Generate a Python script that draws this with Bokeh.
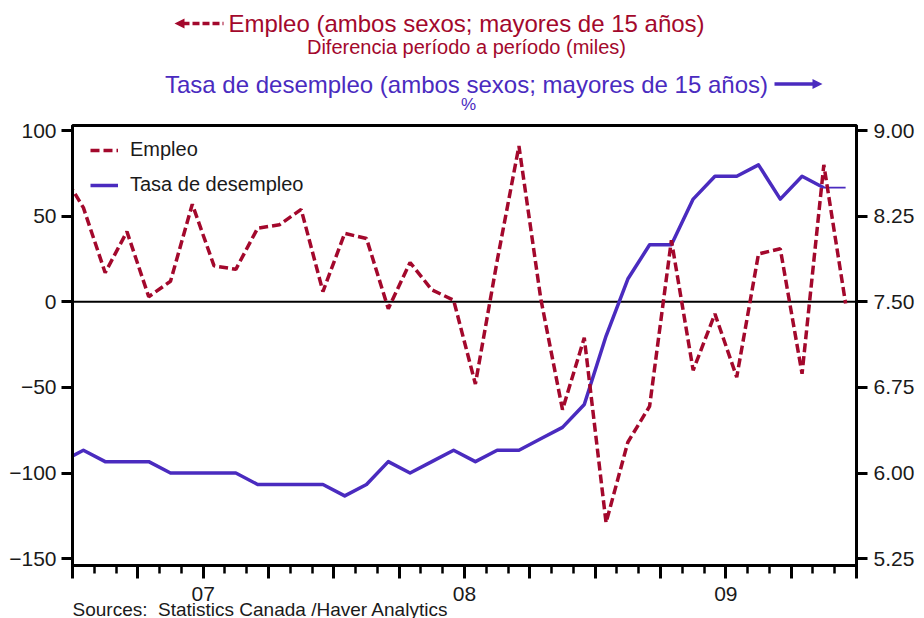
from bokeh.plotting import figure
from bokeh.layouts import column
from bokeh.models import (Range1d, LinearAxis, FixedTicker, NumeralTickFormatter,
                          Span, Legend, LegendItem, ColumnDataSource, Title)
from bokeh.core.properties import value
from bokeh.embed import file_html
from bokeh.resources import INLINE

# ---------------- data ----------------
months = ["2006-12",
          "2007-01", "2007-02", "2007-03", "2007-04", "2007-05", "2007-06",
          "2007-07", "2007-08", "2007-09", "2007-10", "2007-11", "2007-12",
          "2008-01", "2008-02", "2008-03", "2008-04", "2008-05", "2008-06",
          "2008-07", "2008-08", "2008-09", "2008-10", "2008-11", "2008-12",
          "2009-01", "2009-02", "2009-03", "2009-04", "2009-05", "2009-06",
          "2009-07", "2009-08", "2009-09", "2009-10", "2009-11", "2009-12"]

empleo = [76,
          55, 17, 41, 3, 12, 57, 21, 19, 43, 45, 54, 6,
          40, 37, -4, 23, 7, 1, -48, 24, 91, 2, -63, -21,
          -129, -82, -61, 36, -40, -7, -44, 28, 31, -42, 80, -1]

tasa = [6.1,
        6.2, 6.1, 6.1, 6.1, 6.0, 6.0, 6.0, 6.0, 5.9, 5.9, 5.9, 5.9,
        5.8, 5.9, 6.1, 6.0, 6.1, 6.2, 6.1, 6.2, 6.2, 6.3, 6.4, 6.6,
        7.2, 7.7, 8.0, 8.0, 8.4, 8.6, 8.6, 8.7, 8.4, 8.6, 8.5, 8.5]

left_ticks = [-150, -100, -50, 0, 50, 100]
right_ticks = [5.25, 6.00, 6.75, 7.50, 8.25, 9.00]
year_labels = {6: "07", 18: "08", 30: "09"}

title_emp = "Empleo (ambos sexos; mayores de 15 años)"
sub_emp = "Diferencia período a período (miles)"
title_tasa = "Tasa de desempleo (ambos sexos; mayores de 15 años)"
sub_tasa = "%"
sources = "Sources:\u00a0\u00a0Statistics Canada /Haver Analytics"

# ---------------- styling ----------------
RED = "#A3082C"
BLUE = "#4A2BBF"
FONT = "Liberation Sans"
TXT = "#1a1a1a"
W = 924
TOP_H = 118
FL, FR = 72, 856          # frame left / right in page pixels

LEFT_LO, LEFT_HI = -154, 103
def to_right(v):
    return 7.5 + 0.015 * v

# ================= header figure (titles + arrows) =================
top = figure(width=W, height=TOP_H, output_backend="svg", toolbar_location=None,
             tools="", x_range=Range1d(FL, FR), y_range=Range1d(TOP_H, 0),
             x_axis_location=None, y_axis_location=None, min_border=0)
top.outline_line_color = None
top.background_fill_color = "white"
top.border_fill_color = "white"
top.grid.visible = False

CX = 466
top.text(x=[CX], y=[23], text=[title_emp], text_font=value(FONT),
         text_font_size="24px", text_color=RED, text_align="center",
         text_baseline="middle")
top.text(x=[CX], y=[46], text=[sub_emp], text_font=value(FONT),
         text_font_size="20px", text_color=RED, text_align="center",
         text_baseline="middle")
top.text(x=[CX], y=[83.5], text=[title_tasa], text_font=value(FONT),
         text_font_size="24px", text_color=BLUE, text_align="center",
         text_baseline="middle")
top.text(x=[CX + 2], y=[104], text=[sub_tasa], text_font=value(FONT),
         text_font_size="17px", text_color=BLUE, text_align="center",
         text_baseline="middle")

# arrow left of the Empleo title (dashed, pointing left)
ya1, tip1, end1 = 23, 174, 223
top.segment(x0=[tip1 + 8], y0=[ya1], x1=[end1], y1=[ya1], line_color=RED,
            line_width=3.5, line_dash="7 3")
top.patch(x=[tip1, tip1 + 10, tip1 + 10], y=[ya1, ya1 - 5, ya1 + 5],
          color=RED, line_width=0)
# arrow right of the Tasa title (solid, pointing right)
ya2, st2, tip2 = 83.5, 774, 822
top.segment(x0=[st2], y0=[ya2], x1=[tip2 - 8], y1=[ya2], line_color=BLUE,
            line_width=3.5)
top.patch(x=[tip2, tip2 - 10, tip2 - 10], y=[ya2, ya2 - 5, ya2 + 5],
          color=BLUE, line_width=0)

# ================= main chart =================
x = [i - 0.5 for i in range(len(months))]   # Jan-2007 boundary = 0, mid-month points

p = figure(width=W, height=618 - TOP_H, output_backend="svg",
           toolbar_location=None, tools="",
           x_range=Range1d(0, 36), y_range=Range1d(LEFT_LO, LEFT_HI),
           min_border_left=FL, min_border_right=W - FR, min_border_top=7,
           min_border_bottom=53)
p.background_fill_color = "white"
p.border_fill_color = "white"
p.grid.visible = False
p.outline_line_color = "black"
p.outline_line_width = 3

p.extra_y_ranges = {"r": Range1d(to_right(LEFT_LO), to_right(LEFT_HI))}

p.add_layout(Span(location=0, dimension="width", line_color="black",
                  line_width=2, level="underlay"))

src_t = ColumnDataSource(dict(x=x[:-1], y=tasa[:-1]))
src_t_end = ColumnDataSource(dict(x=x[-2:], y=tasa[-2:]))
r_tasa = p.line("x", "y", source=src_t, y_range_name="r", line_color=BLUE,
                line_width=3.5, line_join="round")
p.line("x", "y", source=src_t_end, y_range_name="r", line_color=BLUE,
       line_width=1.8)
src_e = ColumnDataSource(dict(x=x, y=empleo))
r_emp = p.line("x", "y", source=src_e, line_color=RED, line_width=3.5,
               line_dash="9 4")

# x axis
quarters = list(range(0, 37, 3))
xa = p.xaxis[0]
xa.ticker = FixedTicker(ticks=quarters, minor_ticks=list(range(0, 37)))
overrides = {q: "" for q in quarters}
overrides.update(year_labels)
xa.major_label_overrides = overrides
xa.major_tick_out = 13
xa.major_tick_in = 0
xa.minor_tick_out = 8
xa.minor_tick_in = 0
xa.major_tick_line_width = 3
xa.minor_tick_line_width = 2.5
xa.axis_line_width = 3
xa.major_label_standoff = 8
xa.major_label_text_font_size = "21px"
xa.major_label_text_font = FONT
xa.major_label_text_color = TXT

# source note below the axis, aligned with the frame's left edge
p.add_layout(Title(text=sources, align="left", text_font=FONT,
                   text_font_size="19px", text_font_style="normal",
                   text_color=TXT, standoff=-14, offset=0), "below")

# left axis
ya = p.yaxis[0]
ya.ticker = FixedTicker(ticks=left_ticks)
ya.major_tick_out = 11
ya.major_tick_in = 0
ya.minor_tick_out = 0
ya.minor_tick_in = 0
ya.major_tick_line_width = 3
ya.axis_line_width = 3
ya.major_label_standoff = 5
ya.major_label_text_font_size = "21px"
ya.major_label_text_font = FONT
ya.major_label_text_color = TXT

# right axis
ra = LinearAxis(y_range_name="r", ticker=FixedTicker(ticks=right_ticks),
                formatter=NumeralTickFormatter(format="0.00"))
ra.major_tick_out = 11
ra.major_tick_in = 0
ra.minor_tick_out = 0
ra.minor_tick_in = 0
ra.major_tick_line_width = 3
ra.axis_line_width = 3
ra.major_label_standoff = 6
ra.major_label_text_font_size = "21px"
ra.major_label_text_font = FONT
ra.major_label_text_color = TXT
p.add_layout(ra, "right")

# legend
legend = Legend(items=[LegendItem(label="Empleo", renderers=[r_emp]),
                       LegendItem(label="Tasa de desempleo", renderers=[r_tasa])],
                location=(18, 369), orientation="vertical",
                label_text_font=FONT, label_text_font_size="20px",
                label_text_color=TXT, glyph_width=28, glyph_height=20,
                label_height=20, spacing=12, padding=0, margin=0,
                label_standoff=12, border_line_color=None,
                background_fill_alpha=0)
p.add_layout(legend, "center")

layout = column(top, p, spacing=0)
open("out.html", "w").write(file_html(layout, INLINE))
